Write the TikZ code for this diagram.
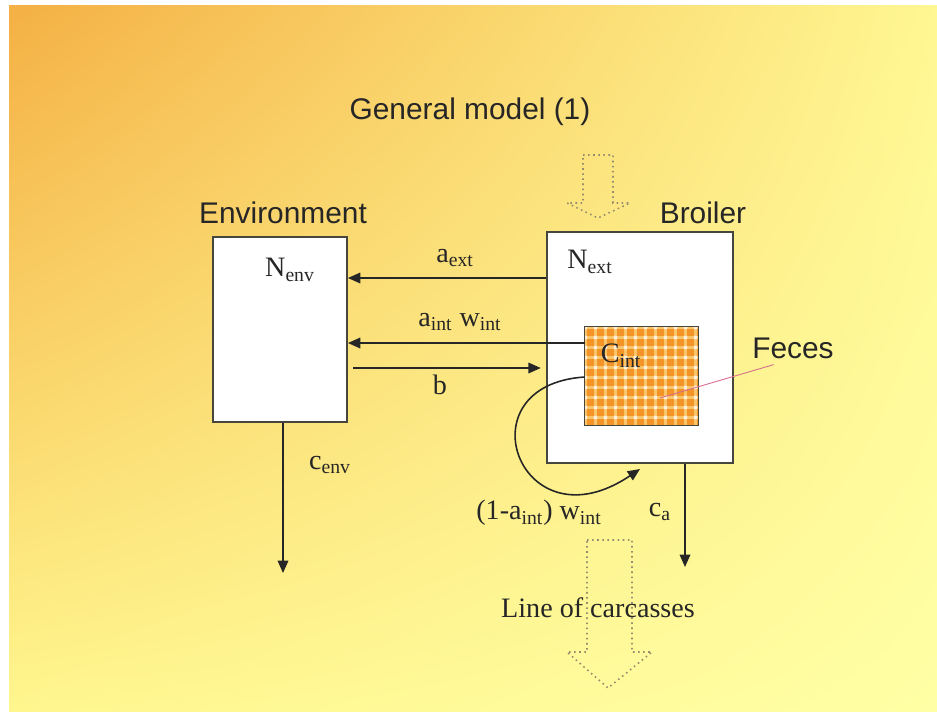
\documentclass[tikz,border=0pt]{standalone}
\usepackage{fontspec}
\setmainfont{Liberation Serif}
\setsansfont{Liberation Sans}
\usetikzlibrary{arrows.meta,shadings}
\definecolor{bgorange}{RGB}{244,176,68}
\definecolor{bgyellow}{RGB}{255,247,146}
\definecolor{bgleft}{RGB}{255,246,142}
\definecolor{bgpale}{RGB}{255,255,165}
\definecolor{myorange}{RGB}{242,148,40}
\definecolor{lightorange}{RGB}{250,196,105}
\definecolor{linegray}{RGB}{70,70,60}
\definecolor{dotgray}{RGB}{150,140,110}
\definecolor{mypink}{RGB}{215,110,140}
\tikzset{
  box/.style={draw=linegray, fill=white, line width=1.1pt, inner sep=0pt},
  flow/.style={draw=black!85, line width=0.9pt, -{Triangle[length=7pt,width=6pt]}},
  lbl/.style={font=\fontsize{16}{19}\selectfont, text=black!85, inner sep=1pt},
  heading/.style={font=\sffamily\fontsize{17}{20}\selectfont, text=black!85},
  dotarrow/.style={draw=dotgray, line width=0.9pt, dotted},
}

\begin{document}
\begin{tikzpicture}[x=0.02cm, y=-0.02cm]
\useasboundingbox (0,0) rectangle (937,711);
\shade[upper left=bgorange, upper right=bgyellow, lower left=bgleft, lower right=bgpale] (9,5) rectangle (937,711);

\draw[dotarrow] (583,155) -- (613,155) -- (613,203) -- (630,203) -- (598,218) -- (567,203) -- (583,203) -- cycle;
\draw[dotarrow] (587,540) -- (632,540) -- (632,652) -- (652,652) -- (608,688) -- (567,652) -- (587,652) -- cycle;

\node[heading] (title) at (470,112) {General model (1)};
\node[heading] (envtitle) at (283,213) {Environment};
\node[heading] (brtitle) at (703,213) {Broiler};
\node[heading] (feces) at (793,348) {Feces};

\node[box, minimum width=2.68cm, minimum height=3.7cm] (env) at (280,329.5) {};
\node[box, minimum width=3.72cm, minimum height=4.62cm] (broiler) at (640,347.5) {};
\node[fill=lightorange, inner sep=0pt, minimum width=2.26cm, minimum height=1.96cm] (cint) at (641.5,376) {};
\begin{scope}
\clip (cint.south west) rectangle (cint.north east);
\foreach \i in {0,...,12} \foreach \j in {0,...,10} {
  \fill[myorange] (587+\i*10,329+\j*10) rectangle +(7,7);
  \fill[white!85!orange] (585.5+\i*10,327.5+\j*10) circle (2);
}
\end{scope}
\draw[linegray, line width=0.8pt] (cint.north west) rectangle (cint.south east);

\node[lbl] (nenv) at (290,270) {N\textsubscript{env}};
\node[lbl] (nextlbl) at (590,262) {N\textsubscript{ext}};
\node[lbl] (cintlbl) at (621,356) {C\textsubscript{int}};
\node[lbl] (aext) at (455,258) {a\textsubscript{ext}};
\node[lbl] (aint) at (460,322) {a\textsubscript{int} w\textsubscript{int}};
\node[lbl] (blbl) at (440,385) {b};
\node[lbl] (cenv) at (330,465) {c\textsubscript{env}};
\node[lbl] (ca) at (660,512) {c\textsubscript{a}};
\node[lbl] (looplbl) at (539,513) {(1-a\textsubscript{int}) w\textsubscript{int}};
\node[lbl] (carc) at (598,608) {Line of carcasses};

\coordinate (yext) at (0,278);
\coordinate (yint) at (0,343);
\coordinate (yb) at (0,368);
\coordinate (yloop) at (0,377);
\coordinate (envout) at (283,573);
\coordinate (caout) at (685,567);
\coordinate (loopin) at (640,469);
\coordinate (fecespt) at (660,398);

\draw[flow] (broiler.west |- yext) -- (env.east |- yext);
\draw[flow] (cint.west |- yint) -- (env.east |- yint);
\draw[flow, shorten <=3pt, shorten >=3pt] (env.east |- yb) -- (broiler.west |- yb);
\draw[flow] (env.south -| envout) -- (envout);
\draw[flow] (broiler.south -| caout) -- (caout);
\draw[flow] (cint.west |- yloop) .. controls (460,385) and (520,550) .. (loopin);
\draw[mypink, line width=0.5pt] ([xshift=-11pt]feces.south) -- (fecespt);
\end{tikzpicture}
\end{document}
